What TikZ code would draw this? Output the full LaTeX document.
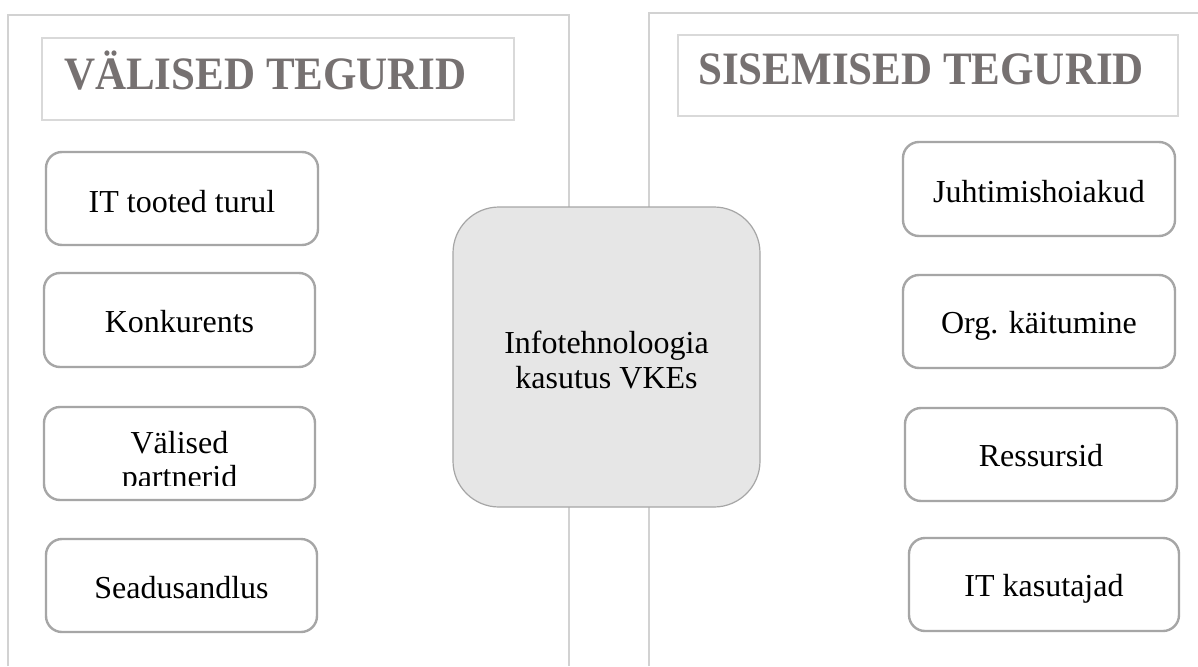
\documentclass[tikz,border=0pt]{standalone}
\usepackage{fontspec}
\setmainfont{Liberation Serif}
\definecolor{panelgrey}{HTML}{D2D2D2}
\definecolor{titleframe}{HTML}{D9D9D9}
\definecolor{titletext}{HTML}{767171}
\definecolor{boxframe}{HTML}{A6A6A6}
\definecolor{corefill}{HTML}{E6E6E6}
\newcommand{\tallbold}[1]{\scalebox{1}[1.08]{#1}}
\tikzset{
  panelline/.style={draw=panelgrey, line width=2pt},
  titlebox/.style={draw=titleframe, line width=1.5pt, rectangle, inner sep=0pt},
  titlelabel/.style={text=titletext, font=\fontsize{43}{48}\selectfont\bfseries, inner sep=0pt},
  factor/.style={draw=boxframe, line width=2.4pt, rounded corners=16pt, rectangle, inner sep=0pt},
  factorlabel/.style={font=\fontsize{32}{35}\selectfont, inner sep=0pt, anchor=base},
  corebox/.style={draw=boxframe, fill=corefill, line width=1.2pt, rounded corners=46pt}
}
\begin{document}
\begin{tikzpicture}[x=1pt, y=-1pt]
\useasboundingbox (0,0) rectangle (1198,666);
\fill[white] (0,0) rectangle (1198,666);

% left panel: external factors
\draw[panelline] (8,666) -- (8,15) -- (569,15) -- (569,666);
% right panel: internal factors
\draw[panelline] (649,666) -- (649,13) -- (1198,13);

% panel headings
\draw[titlebox] (42,38) rectangle (514,120);
\node[titlelabel, anchor=base west] (extTitle) at (64,90) {\tallbold{VÄLISED TEGURID}};
\draw[titlebox] (678,35) rectangle (1178,116);
\node[titlelabel, anchor=base west] (intTitle) at (698,85) {\tallbold{SISEMISED TEGURID}};

% external factor boxes
\draw[factor] (46,152) rectangle (318,245);
\node[factorlabel] (itProducts) at (182,212) {IT tooted turul};
\draw[factor] (44,273) rectangle (315,367);
\node[factorlabel] (competition) at (179.5,332) {Konkurents};
\draw[factor] (44,407) rectangle (315,500);
\begin{scope}
  \clip (44,407) rectangle (315,485);
  \node[factorlabel] (partners) at (179.5,453) {Välised};
  \node[factorlabel] (partners2) at (179.5,487) {partnerid};
\end{scope}
\draw[factor] (46,539) rectangle (317,632);
\node[factorlabel] (legislation) at (181.5,598) {Seadusandlus};

% internal factor boxes
\draw[factor] (903,142) rectangle (1175,236);
\node[factorlabel] (attitudes) at (1039,202) {Juhtimishoiakud};
\draw[factor] (903,275) rectangle (1175,368);
\node[factorlabel] (behaviour) at (1039,333) {Org. käitumine};
\draw[factor] (905,408) rectangle (1177,501);
\node[factorlabel] (resources) at (1041,466) {Ressursid};
\draw[factor] (909,538) rectangle (1179,631);
\node[factorlabel] (users) at (1044,596) {IT kasutajad};

% central topic
\draw[corebox] (453,207) rectangle (760,507);
\node[factorlabel] (core) at (606.5,353) {Infotehnoloogia};
\node[factorlabel] (core2) at (606.5,388) {kasutus VKEs};
\end{tikzpicture}
\end{document}
